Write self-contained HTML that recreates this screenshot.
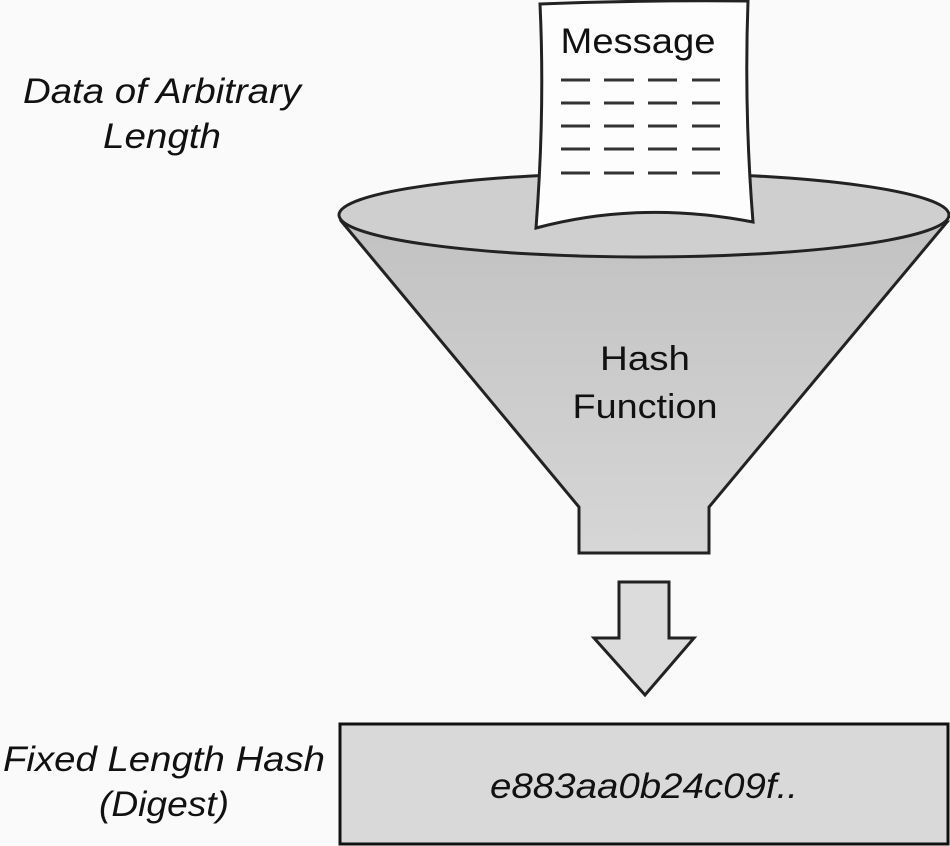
<!DOCTYPE html>
<html><head><meta charset="utf-8"><style>
html,body{margin:0;padding:0;background:#fafafa;}
svg{display:block;}
text{font-family:"Liberation Sans",sans-serif;fill:#111;}
</style></head><body>
<svg width="950" height="846" viewBox="0 0 950 846" xmlns="http://www.w3.org/2000/svg">
<defs>
<linearGradient id="cone" x1="0" y1="0" x2="0" y2="1">
<stop offset="0" stop-color="#c2c2c2"/><stop offset="1" stop-color="#d6d6d6"/>
</linearGradient>
</defs>
<rect width="950" height="846" fill="#fafafa"/>
<text x="162" y="103" font-size="35" font-style="italic" text-anchor="middle" textLength="278" lengthAdjust="spacingAndGlyphs">Data of Arbitrary</text>
<text x="162" y="148" font-size="35" font-style="italic" text-anchor="middle" textLength="118" lengthAdjust="spacingAndGlyphs">Length</text>
<path d="M342,222 L579,507 L579,553 L709,553 L709,507 L947,222 Z" fill="url(#cone)" stroke="#222" stroke-width="3"/>
<ellipse cx="644" cy="215" rx="305" ry="42" fill="#cfcfcf" stroke="#222" stroke-width="3"/>
<path d="M540,4 Q640,0 748,1 Q744,110 753,222 Q640,200 536,228 Q545,110 540,4 Z" fill="#fdfdfd" stroke="#222" stroke-width="3"/>
<text x="638" y="53" font-size="35" text-anchor="middle" textLength="155" lengthAdjust="spacingAndGlyphs">Message</text>
<g stroke="#333" stroke-width="3">
<line x1="561" y1="80" x2="590" y2="80"/><line x1="604" y1="80" x2="634" y2="80"/><line x1="648" y1="80" x2="677" y2="80"/><line x1="692" y1="80" x2="720" y2="80"/>
<line x1="561" y1="103" x2="590" y2="103"/><line x1="604" y1="103" x2="634" y2="103"/><line x1="648" y1="103" x2="677" y2="103"/><line x1="692" y1="103" x2="720" y2="103"/>
<line x1="561" y1="126" x2="590" y2="126"/><line x1="604" y1="126" x2="634" y2="126"/><line x1="648" y1="126" x2="677" y2="126"/><line x1="692" y1="126" x2="720" y2="126"/>
<line x1="561" y1="149" x2="590" y2="149"/><line x1="604" y1="149" x2="634" y2="149"/><line x1="648" y1="149" x2="677" y2="149"/><line x1="692" y1="149" x2="720" y2="149"/>
<line x1="561" y1="173" x2="590" y2="173"/><line x1="604" y1="173" x2="634" y2="173"/><line x1="648" y1="173" x2="677" y2="173"/><line x1="692" y1="173" x2="720" y2="173"/>
</g>
<text x="645" y="370" font-size="34" text-anchor="middle" textLength="90" lengthAdjust="spacingAndGlyphs">Hash</text>
<text x="645" y="418" font-size="34" text-anchor="middle" textLength="145" lengthAdjust="spacingAndGlyphs">Function</text>
<path d="M619,582 L669,582 L669,638 L694,638 L645,695 L594,638 L619,638 Z" fill="#dcdcdc" stroke="#222" stroke-width="3"/>
<rect x="340" y="724" width="608" height="120" fill="#d9d9d9" stroke="#111" stroke-width="3"/>
<text x="644" y="798" font-size="35" font-style="italic" text-anchor="middle" textLength="308" lengthAdjust="spacingAndGlyphs">e883aa0b24c09f..</text>
<text x="164" y="771" font-size="35" font-style="italic" text-anchor="middle" textLength="322" lengthAdjust="spacingAndGlyphs">Fixed Length Hash</text>
<text x="164" y="816" font-size="35" font-style="italic" text-anchor="middle" textLength="130" lengthAdjust="spacingAndGlyphs">(Digest)</text>
</svg>
</body></html>
